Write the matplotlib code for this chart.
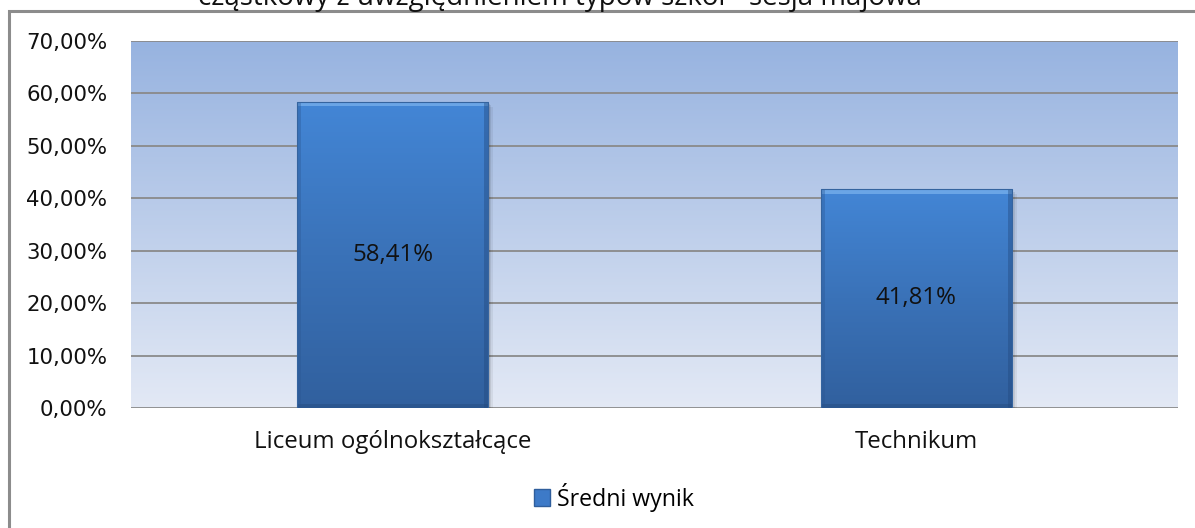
import numpy as np
import matplotlib
matplotlib.use("Agg")
import matplotlib.pyplot as plt
from matplotlib.patches import Rectangle
from matplotlib.colors import LinearSegmentedColormap
from matplotlib.ticker import FuncFormatter

title = "cząstkowy z uwzględnieniem typów szkół - sesja majowa"
categories = ["Liceum ogólnokształcące", "Technikum"]
values = [58.41, 41.81]
series_name = "Średni wynik"
yticks = [0, 10, 20, 30, 40, 50, 60, 70]

label_font = ["Open Sans", "DejaVu Sans"]


def pct(v, pos=None):
    return ("%.2f%%" % v).replace(".", ",")


def main():
    fig = plt.figure(figsize=(11.95, 5.28), dpi=100)
    fig.patch.set_facecolor("white")

    # outer chart frame (runs off the right and bottom edges)
    fig.patches.append(Rectangle((9 / 1195, -0.1), 1.2, (528 - 11) / 528 + 0.1,
                                 transform=fig.transFigure, fill=False,
                                 edgecolor="#8c8c8c", linewidth=2.2, zorder=0))

    # title sits mostly above the top edge
    fig.text(560 / 1195, 1 - 5 / 528, title, ha="center", va="baseline",
             fontsize=20, family=label_font, color="#111111")

    ax = fig.add_axes([131 / 1195, (528 - 408) / 528, 1047 / 1195, 367 / 528])
    ax.set_xlim(-0.5, len(categories) - 0.5)
    ax.set_ylim(0, 70)

    # plot area background gradient
    bg = LinearSegmentedColormap.from_list("bg", ["#e3e9f5", "#97b3e0"])
    grad = np.linspace(0, 1, 256).reshape(-1, 1)
    ax.imshow(grad, cmap=bg, origin="lower", aspect="auto",
              extent=(0, 1, 0, 1), transform=ax.transAxes, zorder=0)

    for t in yticks:
        ax.axhline(t, color="#8a8a8a", linewidth=1.3, zorder=1)

    x = np.arange(len(categories))
    width = 0.365

    # soft shadow behind bars
    for xi, v in zip(x, values):
        for k, a in enumerate([0.10, 0.08, 0.06]):
            d = 0.003 * (k + 1)
            ax.add_patch(Rectangle((xi - width / 2 + d, -0.35 * (k + 1)), width, v,
                                   facecolor="#000000", alpha=a,
                                   edgecolor="none", zorder=2))

    bars = ax.bar(x, values, width=width, color="#3d7ac8", edgecolor="none",
                  zorder=3)

    bar_cmap = LinearSegmentedColormap.from_list(
        "bar", ["#31609e", "#3a72b8", "#4386d6"])
    for b, v in zip(bars, values):
        x0 = b.get_x()
        w = b.get_width()
        im = ax.imshow(grad, cmap=bar_cmap, origin="lower", aspect="auto",
                       extent=(x0, x0 + w, 0, v), zorder=4)
        im.set_clip_path(b)
        # bevel: light top edge, darker bottom and side edges
        ax.add_patch(Rectangle((x0, v - 0.9), w, 0.9, facecolor="#8cc0f5",
                               alpha=0.55, edgecolor="none", zorder=5))
        ax.add_patch(Rectangle((x0, 0), w, 0.8, facecolor="#1f3f6e",
                               alpha=0.3, edgecolor="none", zorder=5))
        ax.add_patch(Rectangle((x0, 0), w * 0.02, v, facecolor="#2a5590",
                               alpha=0.35, edgecolor="none", zorder=5))
        ax.add_patch(Rectangle((x0 + w * 0.98, 0), w * 0.02, v,
                               facecolor="#21477c", alpha=0.4, edgecolor="none",
                               zorder=5))
        ax.add_patch(Rectangle((x0, 0), w, v, fill=False, edgecolor="#35649f",
                               linewidth=0.8, zorder=6))
        ax.text(b.get_x() + w / 2, v / 2, pct(v), ha="center", va="center",
                fontsize=17.3, family=label_font, color="#111111", zorder=7)

    ax.set_xticks(x)
    ax.set_xticklabels(categories, family=label_font, fontsize=17.3,
                       color="#111111")
    ax.set_yticks(yticks)
    ax.yaxis.set_major_formatter(FuncFormatter(pct))
    for lab in ax.get_yticklabels():
        lab.set_fontsize(15.3)
        lab.set_color("#111111")
    ax.tick_params(axis="x", length=0, pad=16)
    ax.tick_params(axis="y", length=0, pad=17)
    for s in ax.spines.values():
        s.set_visible(False)

    handle = Rectangle((0, 0), 1, 1, facecolor="#3d7ac8", edgecolor="#2f5e9c")
    fig.legend([handle], [series_name], loc="center",
               bbox_to_anchor=(614 / 1195, 1 - 497 / 528), frameon=False,
               prop={"family": label_font, "size": 16.7}, handlelength=0.7,
               handleheight=0.7, handletextpad=0.3)

    fig.savefig("out.png", dpi=100)


if __name__ == "__main__":
    main()
